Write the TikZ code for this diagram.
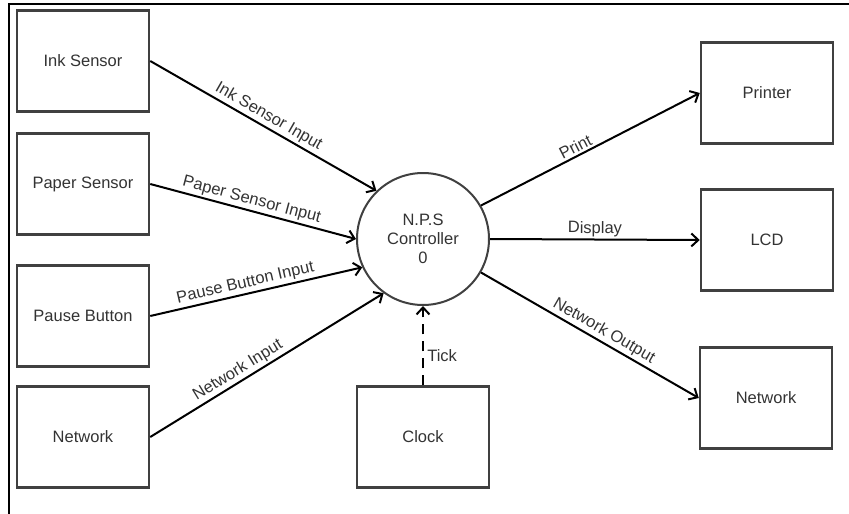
\documentclass[tikz,border=0pt]{standalone}
\usepackage{fontspec}
\setmainfont{Liberation Sans}
\usetikzlibrary{arrows.meta}

\begin{document}
\begin{tikzpicture}[x=1pt,y=-1pt,
  every node/.style={font=\fontsize{16.5}{19}\selectfont, text=black!80},
  box/.style={draw=black!75, line width=2.5pt, minimum width=132pt, minimum height=101pt},
  proc/.style={draw=black!75, line width=2pt, circle, minimum size=132pt, align=center},
  flow/.style={line width=2pt, -{Straight Barb[length=7pt,width=13pt,line width=2pt]}},
  lbl/.style={sloped, above, inner sep=2pt}]
\useasboundingbox (0,0) rectangle (849,514);
\draw[line width=2pt] (9,514) -- (9,4) -- (849,4);

\node[box] (ink) at (83,61) {Ink Sensor};
\node[box] (paper) at (83,184) {Paper Sensor};
\node[box] (pause) at (83,316) {Pause Button};
\node[box] (netin) at (83,437) {Network};

\node[proc] (ctrl) at (423,239) {N.P.S\\Controller\\0};
\node[box] (clock) at (423,437) {Clock};

\node[box] (printer) at (767,93) {Printer};
\node[box] (lcd) at (767,240) {LCD};
\node[box] (netout) at (766,398) {Network};

\draw[flow] (ink.east) -- (ctrl.134) node[lbl, pos=.5] {Ink Sensor Input};
\draw[flow] (paper.east) -- (ctrl.180) node[lbl, pos=.48] {Paper Sensor Input};
\draw[flow] (pause.east) -- (ctrl.205) node[lbl, pos=.46] {Pause Button Input};
\draw[flow] (netin.east) -- (ctrl.234) node[lbl, pos=.4] {Network Input};

\draw[flow] (ctrl.30) -- (printer.west) node[lbl, pos=.45] {Print};
\draw[flow] (ctrl.0) -- (lcd.west) node[lbl, pos=.5] {Display};
\draw[flow] (ctrl.330) -- (netout.west) node[lbl, pos=.54] {Network Output};

\draw[flow, dash pattern=on 10pt off 7pt] (clock.north) -- (ctrl.south) node[right, pos=.38] {Tick};

\end{tikzpicture}
\end{document}
